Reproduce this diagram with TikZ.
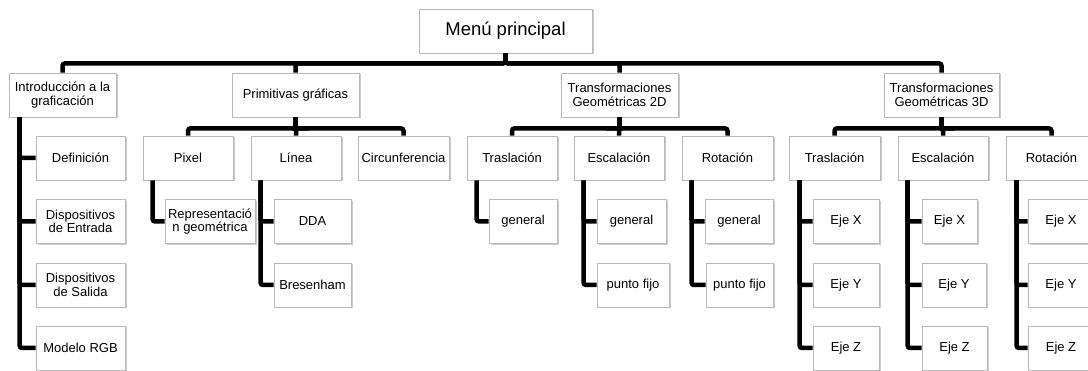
\documentclass[tikz,border=0pt]{standalone}
\usepackage{fontspec}
\setmainfont{Liberation Sans}
\usetikzlibrary{shadows}

\begin{document}
\begin{tikzpicture}[x=1pt, y=-1pt,
  box/.style = {draw=gray!55, line width=0.8pt, fill=white, align=center,
                inner sep=1pt, minimum height=44pt,
                font=\fontsize{13}{13.5}\selectfont,
                drop shadow={shadow xshift=1.5pt, shadow yshift=-1.5pt, fill=black!35, opacity=0.6}},
  root/.style = {box, font=\fontsize{18.5}{20}\selectfont},
  link/.style = {line width=4.5pt, rounded corners=2.5pt},
  ]
  \useasboundingbox (0,0) rectangle (1088,371);

  \node[root, minimum width=173pt] (menu) at (505.5,31) {Menú principal};

  \node[box, minimum width=107pt] (intro) at (62.5,95) {Introducción a la\\graficación};
  \node[box, minimum width=127pt] (prim)  at (295.5,95) {Primitivas gráficas};
  \node[box, minimum width=117pt] (tdos)  at (619.5,95) {Transformaciones\\Geométricas 2D};
  \node[box, minimum width=115pt] (ttres) at (941.5,95) {Transformaciones\\Geométricas 3D};

  \node[box, minimum width=89pt] (defi)  at (80.5,158) {Definición};
  \node[box, minimum width=89pt] (dent)  at (80.5,221.5) {Dispositivos\\de Entrada};
  \node[box, minimum width=89pt] (dsal)  at (80.5,285) {Dispositivos\\de Salida};
  \node[box, minimum width=89pt] (rgb)   at (80.5,348) {Modelo RGB};

  \node[box, minimum width=90pt] (pixel) at (188,158) {Pixel};
  \node[box, minimum width=90pt] (linea) at (296,158) {Línea};
  \node[box, minimum width=91pt] (circ)  at (403.5,158) {Circunferencia};
  \node[box, minimum width=90pt] (repr)  at (210,221.5) {Representació\\n geométrica};
  \node[box, minimum width=77pt] (dda)   at (312.5,221.5) {DDA};
  \node[box, minimum width=77pt] (bres)  at (312.5,285) {Bresenham};

  \node[box, minimum width=90pt] (trasA) at (512,158) {Traslación};
  \node[box, minimum width=90pt] (escA)  at (619,158) {Escalación};
  \node[box, minimum width=91pt] (rotA)  at (727.5,158) {Rotación};
  \node[box, minimum width=68pt] (genA)  at (523,221.5) {general};
  \node[box, minimum width=69pt] (genB)  at (631.5,221.5) {general};
  \node[box, minimum width=72pt] (fijB)  at (633,285) {punto fijo};
  \node[box, minimum width=68pt] (genC)  at (739,221.5) {general};
  \node[box, minimum width=67pt] (fijC)  at (739.5,285) {punto fijo};

  \node[box, minimum width=91pt] (trasB) at (834.5,158) {Traslación};
  \node[box, minimum width=90pt] (escB)  at (943,158) {Escalación};
  \node[box, minimum width=91pt] (rotB)  at (1051.5,158) {Rotación};
  \node[box, minimum width=66pt] (txX)   at (846,221.5) {Eje X};
  \node[box, minimum width=66pt] (txY)   at (846,285) {Eje Y};
  \node[box, minimum width=66pt] (txZ)   at (846,348) {Eje Z};
  \node[box, minimum width=55pt] (exX)   at (949.5,221.5) {Eje X};
  \node[box, minimum width=64pt] (exY)   at (954,285) {Eje Y};
  \node[box, minimum width=65pt] (exZ)   at (954.5,348) {Eje Z};
  \node[box, minimum width=66pt] (rxX)   at (1061,221.5) {Eje X};
  \node[box, minimum width=66pt] (rxY)   at (1061,285) {Eje Y};
  \node[box, minimum width=66pt] (rxZ)   at (1061,348) {Eje Z};

  \draw[link] (menu.south) -- ++(0,10) -| (intro.north);
  \draw[link] (menu.south) -- ++(0,10) -| (prim.north);
  \draw[link] (menu.south) -- ++(0,10) -| (tdos.north);
  \draw[link] (menu.south) -- ++(0,10) -| (ttres.north);

  \draw[link] ([xshift=11pt]intro.south west) |- (defi.west);
  \draw[link] ([xshift=11pt]intro.south west) |- (dent.west);
  \draw[link] ([xshift=11pt]intro.south west) |- (dsal.west);
  \draw[link] ([xshift=11pt]intro.south west) |- (rgb.west);

  \draw[link] (prim.south) -- ++(0,11) -| (pixel.north);
  \draw[link] (prim.south) -- ++(0,11) -| (linea.north);
  \draw[link] (prim.south) -- ++(0,11) -| (circ.north);
  \draw[link] ([xshift=10pt]pixel.south west) |- (repr.west);
  \draw[link] ([xshift=10pt]linea.south west) |- (dda.west);
  \draw[link] ([xshift=10pt]linea.south west) |- (bres.west);

  \draw[link] (tdos.south) -- ++(0,11) -| (trasA.north);
  \draw[link] (tdos.south) -- ++(0,11) -| (escA.north);
  \draw[link] (tdos.south) -- ++(0,11) -| (rotA.north);
  \draw[link] ([xshift=10pt]trasA.south west) |- (genA.west);
  \draw[link] ([xshift=10pt]escA.south west) |- (genB.west);
  \draw[link] ([xshift=10pt]escA.south west) |- (fijB.west);
  \draw[link] ([xshift=10pt]rotA.south west) |- (genC.west);
  \draw[link] ([xshift=10pt]rotA.south west) |- (fijC.west);

  \draw[link] (ttres.south) -- ++(0,11) -| (trasB.north);
  \draw[link] (ttres.south) -- ++(0,11) -| (escB.north);
  \draw[link] (ttres.south) -- ++(0,11) -| (rotB.north);
  \draw[link] ([xshift=11pt]trasB.south west) |- (txX.west);
  \draw[link] ([xshift=11pt]trasB.south west) |- (txY.west);
  \draw[link] ([xshift=11pt]trasB.south west) |- (txZ.west);
  \draw[link] ([xshift=10pt]escB.south west) |- (exX.west);
  \draw[link] ([xshift=10pt]escB.south west) |- (exY.west);
  \draw[link] ([xshift=10pt]escB.south west) |- (exZ.west);
  \draw[link] ([xshift=11pt]rotB.south west) |- (rxX.west);
  \draw[link] ([xshift=11pt]rotB.south west) |- (rxY.west);
  \draw[link] ([xshift=11pt]rotB.south west) |- (rxZ.west);
\end{tikzpicture}
\end{document}
